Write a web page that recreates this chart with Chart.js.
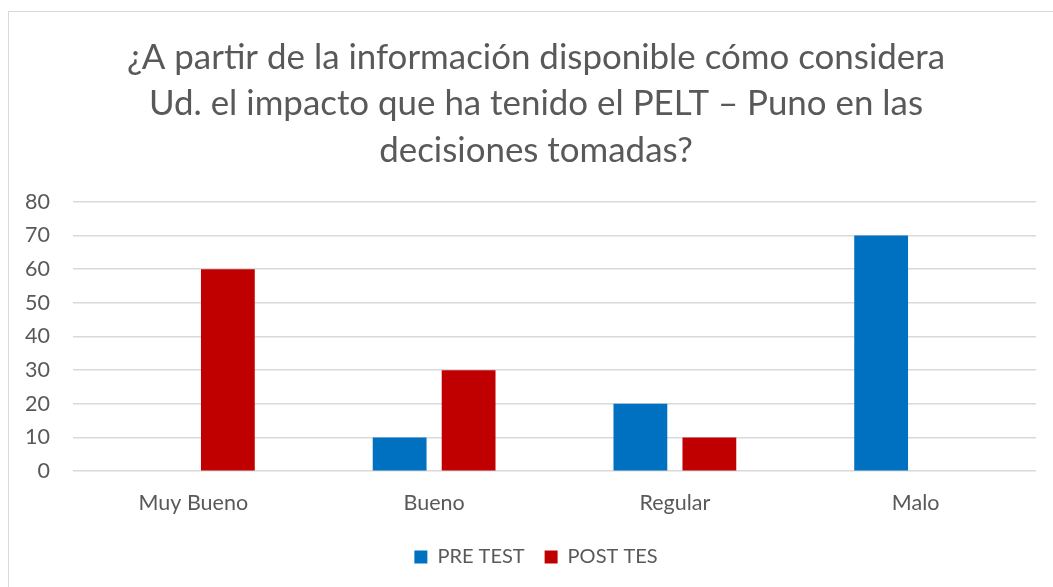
<!DOCTYPE html>
<html>
<head>
<meta charset="utf-8">
<script src="https://cdn.jsdelivr.net/npm/chart.js@4/dist/chart.umd.min.js"></script>
<style>
    html, body {
        margin: 0;
        padding: 0;
        background: #ffffff;
    }

    #frame {
        position: absolute;
        left: 8px;
        top: 11px;
        width: 1100px;
        height: 620px;
        border: 1.5px solid #d9d9d9;
        box-sizing: border-box;
    }

    #wrap {
        position: absolute;
        left: 0;
        top: 0;
        width: 1053px;
        height: 587px;
    }
</style>
</head>
<body>
<div id="frame"></div>
<div id="wrap"><canvas id="impactChart"></canvas></div>
<script>
const categories = ["Muy Bueno", "Bueno", "Regular", "Malo"];
const preTest = [0, 10, 20, 70];
const postTest = [60, 30, 10, 0];
const yTicks = [0, 10, 20, 30, 40, 50, 60, 70, 80];

const titleLines = [
    "¿A partir de la información disponible cómo considera",
    "Ud. el impacto que ha tenido el PELT – Puno en las",
    "decisiones tomadas?"
];

const chartCanvas = document.getElementById("impactChart");

const fontFamily = "Lato, 'Open Sans', sans-serif";
const textColor = "#595959";
const gridColor = "#d9d9d9";

const impactChart = new Chart(chartCanvas, {
    type: "bar",

    data: {
        labels: categories,
        datasets: [
            {
                label: "PRE TEST",
                data: preTest,
                backgroundColor: "#0070c0"
            },
            {
                label: "POST TES",
                data: postTest,
                backgroundColor: "#c00000"
            }
        ]
    },

    options: {
        responsive: true,
        maintainAspectRatio: false,
        animation: false,

        categoryPercentage: 0.573,
        barPercentage: 0.78,

        layout: {
            padding: {
                // left padding shifts title and legend centre to match the frame
                left: 36,
                right: 17,
                top: 0,
                bottom: 10
            }
        },

        plugins: {
            title: {
                display: true,
                text: titleLines,
                color: textColor,
                font: {
                    family: fontFamily,
                    size: 34.9,
                    weight: "normal",
                    lineHeight: 1.335
                },
                padding: {
                    top: 34,
                    bottom: 28
                }
            },

            legend: {
                position: "bottom",
                labels: {
                    color: textColor,
                    boxWidth: 13,
                    boxHeight: 13,
                    padding: 20,
                    font: {
                        family: fontFamily,
                        size: 20
                    }
                }
            },

            tooltip: {
                enabled: false
            }
        },

        scales: {
            x: {
                grid: {
                    display: false
                },

                border: {
                    display: false
                },

                ticks: {
                    color: textColor,
                    padding: 11,
                    font: {
                        family: fontFamily,
                        size: 21.5
                    }
                }
            },

            y: {
                min: 0,
                max: 80,

                afterFit(scale) {
                    scale.width = 37;
                    // labels sit partly inside the left padding, so skip the label clip
                    scale._computeLabelArea = () => null;
                },

                afterBuildTicks(scale) {
                    scale.ticks = yTicks.map((value) => ({ value }));
                },

                grid: {
                    color: gridColor,
                    lineWidth: 1.5,
                    drawTicks: false
                },

                border: {
                    display: false
                },

                ticks: {
                    color: textColor,
                    padding: 23,
                    font: {
                        family: fontFamily,
                        size: 21.5
                    }
                }
            }
        }
    }
});
</script>
</body>
</html>
